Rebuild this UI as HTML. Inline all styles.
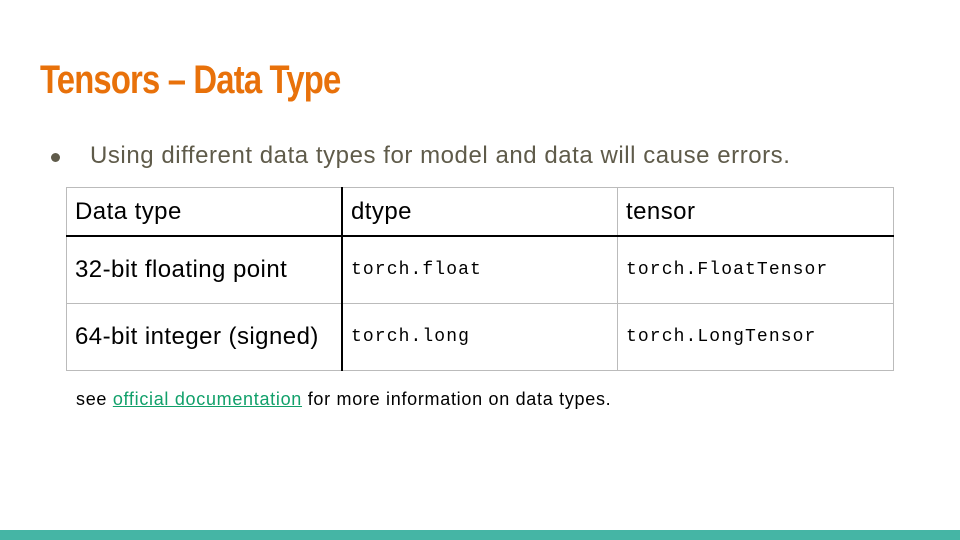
<!DOCTYPE html>
<html><head><style>
body{margin:0;width:960px;height:540px;background:#fff;position:relative;overflow:hidden;font-family:"Liberation Sans",sans-serif}
.t{position:absolute;left:40px;top:58px;font-family:"Liberation Sans Narrow","Liberation Sans",sans-serif;font-weight:bold;font-size:40px;color:#e8710a;transform:scaleX(0.82);transform-origin:left;letter-spacing:-1px;white-space:nowrap}
.b{position:absolute;left:90px;top:142px;font-size:24px;letter-spacing:0.55px;color:#5f5b4a;white-space:nowrap}
.dot{position:absolute;left:51px;top:153px;width:9px;height:9px;border-radius:50%;background:#5f5b4a}
.c{position:absolute;box-sizing:border-box;font-size:24px;letter-spacing:0.45px;color:#000;padding-left:9px;display:flex;align-items:center}
.m{font-family:"Liberation Mono",monospace;font-size:18px;letter-spacing:1.1px}
.h{position:absolute;background:#bbb}
.k{position:absolute;background:#000}
.n{position:absolute;left:76px;top:389px;font-size:18px;letter-spacing:0.7px;color:#000;white-space:nowrap}
.n a{color:#11a06a;text-decoration:underline}
.bar{position:absolute;left:0;top:530px;width:960px;height:10px;background:#45b5a5}
</style></head><body>
<div class="t">Tensors – Data Type</div>
<div class="dot"></div>
<div class="b">Using different data types for model and data will cause errors.</div>
<div class="h" style="left:66px;top:187px;width:828px;height:1px"></div>
<div class="h" style="left:66px;top:303px;width:828px;height:1px"></div>
<div class="h" style="left:66px;top:370px;width:828px;height:1px"></div>
<div class="h" style="left:66px;top:187px;width:1px;height:184px"></div>
<div class="h" style="left:617px;top:187px;width:1px;height:184px"></div>
<div class="h" style="left:893px;top:187px;width:1px;height:184px"></div>
<div class="k" style="left:66px;top:235px;width:828px;height:2px"></div>
<div class="k" style="left:341px;top:187px;width:2px;height:184px"></div>
<div class="c" style="left:66px;top:188px;width:276px;height:48px">Data type</div>
<div class="c" style="left:342px;top:188px;width:276px;height:48px">dtype</div>
<div class="c" style="left:617px;top:188px;width:276px;height:48px">tensor</div>
<div class="c" style="left:66px;top:237px;width:276px;height:66px">32-bit floating point</div>
<div class="c m" style="left:342px;top:237px;width:276px;height:66px">torch.float</div>
<div class="c m" style="left:617px;top:237px;width:276px;height:66px">torch.FloatTensor</div>
<div class="c" style="left:66px;top:304px;width:276px;height:66px">64-bit integer (signed)</div>
<div class="c m" style="left:342px;top:304px;width:276px;height:66px">torch.long</div>
<div class="c m" style="left:617px;top:304px;width:276px;height:66px">torch.LongTensor</div>
<div class="n">see <a>official documentation</a> for more information on data types.</div>
<div class="bar"></div>
</body></html>
